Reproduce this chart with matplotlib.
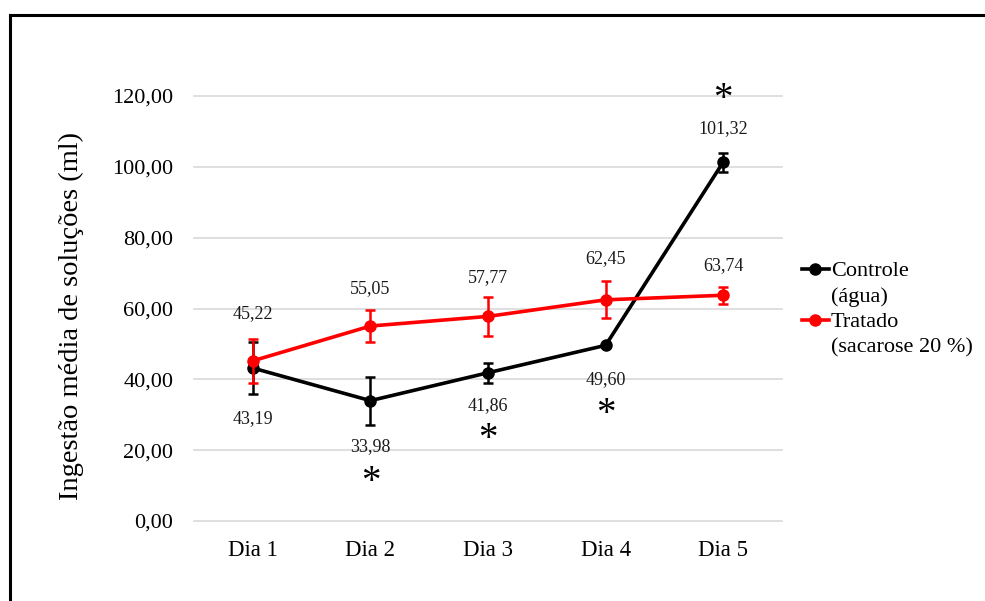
import matplotlib
matplotlib.use("Agg")
import matplotlib.pyplot as plt
from matplotlib.lines import Line2D

plt.rcParams["font.family"] = ["Liberation Serif", "DejaVu Serif"]

days = ["Dia 1", "Dia 2", "Dia 3", "Dia 4", "Dia 5"]
controle = [43.19, 33.98, 41.86, 49.60, 101.32]
controle_sd = [7.4, 6.8, 2.8, 0.5, 2.7]
tratado = [45.22, 55.05, 57.77, 62.45, 63.74]
tratado_sd = [6.3, 4.5, 5.4, 5.2, 2.4]
yticks = [0, 20, 40, 60, 80, 100, 120]
legend_labels = ["Controle", "(água)", "Tratado", "(sacarose 20 %)"]

# vertical pixel offsets of the value labels
controle_lab_off = [-51, -46, -33, -34, 34]
tratado_lab_off = [47, 37, 39, 41, 30]
# significance marks: (day index, y value)
sig_idx = [1, 2, 3, 4]
sig_y = [11.0, 23.0, 30.0, 119.0]

fig = plt.figure(figsize=(9.85, 6.01), dpi=100)
ax = fig.add_axes([194 / 985, 1 - 521 / 601, 588 / 985, (521 - 96) / 601])

x = list(range(len(days)))
ax.errorbar(x, controle, yerr=controle_sd, color="black", lw=2.6, marker="o",
            ms=8, capsize=3.5, elinewidth=1.8, capthick=1.8, zorder=3)
ax.errorbar(x, tratado, yerr=tratado_sd, color="#ff0000", lw=2.6, marker="o",
            ms=8, capsize=3.5, elinewidth=1.8, capthick=1.8, zorder=4)

fmt = lambda v: f"{v:.2f}".replace(".", ",")
for i, v in enumerate(controle):
    ax.annotate(fmt(v), (i, v), xytext=(0, controle_lab_off[i]),
                textcoords="offset pixels", ha="center", va="center",
                fontsize=13, color="#1a1a1a")
for i, v in enumerate(tratado):
    ax.annotate(fmt(v), (i, v), xytext=(0, tratado_lab_off[i]),
                textcoords="offset pixels", ha="center", va="center",
                fontsize=13, color="#1a1a1a")
for i, y in zip(sig_idx, sig_y):
    ax.text(i, y, "*", ha="center", va="center", fontsize=28,
            clip_on=False, zorder=5)

ax.set_xlim(-0.5, len(days) - 0.5)
ax.set_ylim(0, 120)
ax.set_xticks(x)
ax.set_xticklabels(days, fontsize=16.5)
ax.set_yticks(yticks)
ax.set_yticklabels([fmt(v) for v in yticks], fontsize=16)
ax.tick_params(length=0)
ax.tick_params(axis="x", pad=14)
ax.tick_params(axis="y", pad=15)
ax.grid(axis="y", color="#d9d9d9", lw=1.2)
for gl in ax.get_ygridlines():
    gl.set_clip_on(False)
ax.set_axisbelow(True)
for s in ax.spines.values():
    s.set_visible(False)

ax.set_ylabel("Ingestão média de soluções (ml)", fontsize=20.5)
ax.yaxis.set_label_coords(-(194 - 84) / 588, 0.5 - 8 / 425)

# legend: the marker sits on the first line of each two-line entry
blank = Line2D([], [], color="none")
handles = [
    Line2D([], [], color="black", lw=2.6, marker="o", ms=8),
    blank,
    Line2D([], [], color="#ff0000", lw=2.6, marker="o", ms=8),
    blank,
]
fig.legend(handles, legend_labels,
           loc="upper left", bbox_to_anchor=(793 / 985, 1 - 252 / 601),
           frameon=False, fontsize=16, handlelength=1.2, handletextpad=0.1,
           labelspacing=0.22, borderaxespad=0)

# outer frame (top and left edges)
fig.add_artist(Line2D([10 / 985, 1], [1 - 15 / 601, 1 - 15 / 601],
                      transform=fig.transFigure, color="black", lw=2.2))
fig.add_artist(Line2D([10 / 985, 10 / 985], [0, 1 - 15 / 601],
                      transform=fig.transFigure, color="black", lw=2.2))

fig.savefig("out.png", dpi=100)
